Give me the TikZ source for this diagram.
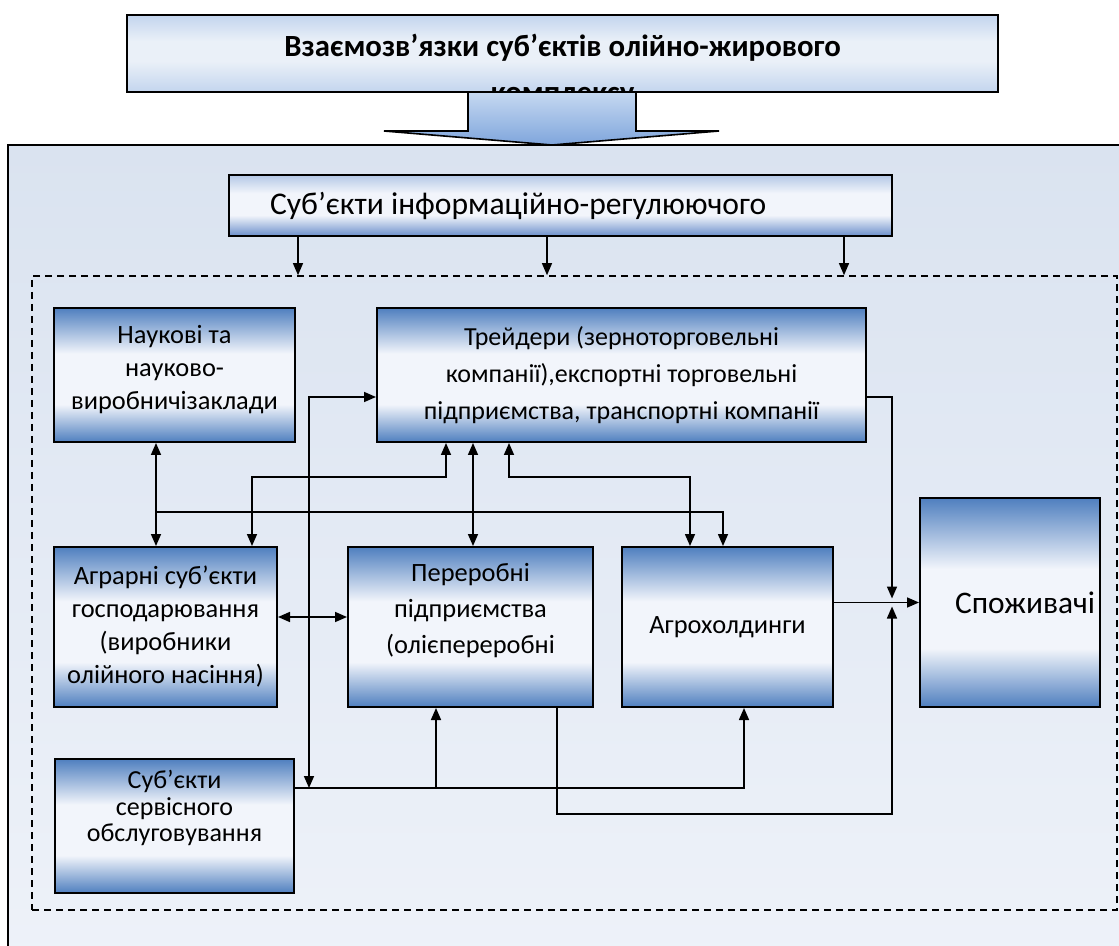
\documentclass[tikz,border=0pt]{standalone}
\usepackage{fontspec}
\setmainfont{Carlito}
\usepackage{xcolor}
\usepackage{tikz}
\usetikzlibrary{arrows.meta, positioning}

\definecolor{unitblue}{HTML}{4F7FBF}
\definecolor{unitlight}{HTML}{F2F5FB}
\definecolor{infotop}{HTML}{B4C8E6}
\definecolor{infobot}{HTML}{6B8FCB}
\definecolor{titleblue}{HTML}{C3D5EE}
\definecolor{titlelight}{HTML}{EAF0F8}
\definecolor{fieldtop}{HTML}{DAE3F0}
\definecolor{fieldbot}{HTML}{EEF2F9}
\definecolor{arrtop}{HTML}{C6D9F1}
\definecolor{arrbot}{HTML}{7FA5DC}

\pgfdeclareverticalshading{unitshade}{100bp}{color(0bp)=(unitblue); color(25bp)=(unitblue);
  color(39bp)=(unitlight); color(58bp)=(unitlight); color(75bp)=(unitblue); color(100bp)=(unitblue)}
\pgfdeclareverticalshading{infoshade}{100bp}{color(0bp)=(infobot); color(25bp)=(infobot);
  color(42bp)=(unitlight); color(60bp)=(unitlight); color(75bp)=(infotop); color(100bp)=(infotop)}
\pgfdeclareverticalshading{titleshade}{100bp}{color(0bp)=(titleblue); color(25bp)=(titleblue);
  color(45bp)=(titlelight); color(58bp)=(titlelight); color(75bp)=(titleblue); color(100bp)=(titleblue)}
\pgfdeclareverticalshading{fieldshade}{100bp}{color(0bp)=(fieldbot); color(25bp)=(fieldbot);
  color(75bp)=(fieldtop); color(100bp)=(fieldtop)}

\begin{document}
\begin{tikzpicture}[x=0.5pt, y=-0.5pt, >={Triangle[length=6pt, width=5pt]},
    unit/.style={draw=black, line width=1pt, shading=unitshade, inner sep=2pt, align=center,
      font=\fontsize{13.2}{16.5}\selectfont},
    link/.style={line width=0.8pt}]
    \useasboundingbox (0,0) rectangle (1119,946);
    \shade[shading=fieldshade, draw=black, line width=0.8pt] (8,145) rectangle (1140,970);

    % title with arrow
    \node[draw=black, line width=0.8pt, shading=titleshade, minimum width=435.5pt, minimum height=38.5pt] (title) at (562.5,53.5) {};
    \node[font=\bfseries\fontsize{15.4}{23}\selectfont, align=center] (titletxt) at (562.5,71)
        {Взаємозв’язки суб’єктів олійно-жирового\\комплексу};
    \draw[line width=0.8pt, top color=arrtop, bottom color=arrbot]
        (468,92) -- (636,92) -- (636,131) -- (719,131) -- (552,145) -- (384,131) -- (468,131) -- cycle;

    \node[draw=black, line width=1pt, shading=infoshade, minimum height=30.5pt, inner xsep=20.5pt,
        font=\fontsize{15.8}{18}\selectfont] (info) at (560.5,205.5)
        {\makebox[290.5pt][l]{Суб’єкти інформаційно-регулюючого}};
    \node[draw=black, dash pattern=on 3.5pt off 2.5pt, line width=0.8pt, inner sep=0pt,
        minimum width=542.5pt, minimum height=317pt] (field) at (574.5,593) {};

    \node[unit, minimum width=120.5pt, minimum height=67pt] (sci) at (174.5,375) {};
    \node[align=center, font=\fontsize{13.2}{16.5}\selectfont] (scitxt) at ([yshift=2.5pt]sci.center)
        {Наукові та\\науково-\\виробничізаклади};
    \node[unit, minimum width=244.5pt, minimum height=67pt, font=\fontsize{13}{18.5}\selectfont] (trd) at (621.5,375)
        {Трейдери (зерноторговельні\\компанії),експортні торговельні\\підприємства, транспортні компанії};
    \node[unit, minimum width=111.5pt, minimum height=80pt] (agr) at (165.5,627)
        {Аграрні суб’єкти\\господарювання\\(виробники\\олійного насіння)};
    \node[unit, minimum width=122.5pt, minimum height=80pt] (proc) at (470.5,627) {};
    \node[align=center, font=\fontsize{13.2}{18}\selectfont] (proctxt) at ([yshift=8pt]proc.center)
        {Переробні\\підприємства\\(олієпереробні};
    \node[unit, minimum width=105.5pt, minimum height=80pt] (hold) at (727.5,627) {Агрохолдинги};
    \node[unit, minimum width=90pt, minimum height=104.5pt, font=\fontsize{15.7}{16}\selectfont] (cons) at (1010,602.5)
        {\hspace*{15pt}Споживачі};
    \node[unit, minimum width=119.5pt, minimum height=67pt] (serv) at (174.5,826) {};
    \node[align=center, font=\fontsize{13}{13.25}\selectfont] (servtxt) at ([yshift=9pt]serv.center)
        {Суб’єкти\\сервісного\\обслуговування};

    \foreach \dx in {-131.25, -6.75, 141.75}
        \draw[->, line width=0.6pt] ([xshift=\dx pt]info.south) -- ([xshift=\dx pt]info.south |- field.north);

    \coordinate (sciagr) at ([xshift=-9.25pt, yshift=-34.5pt]sci.south);
    \coordinate (servout) at ([yshift=19pt]serv.east);
    \coordinate (jn) at ([xshift=-13.5pt]cons.west);

    \draw[link, <->] ([xshift=-9.25pt]sci.south) -- ([xshift=-9.25pt]sci.south |- agr.north);
    \draw[link, ->] (sciagr) -| ([xshift=-2.25pt]hold.north);
    \draw[link, <->] ([xshift=-87.75pt]trd.south) -- ++(0,34) -| ([xshift=43.25pt]agr.north);
    \draw[link, <->] ([xshift=-56.25pt]trd.south) -- ++(0,34) -| ([xshift=-18.75pt]hold.north);
    \draw[link, <->] ([xshift=-74.25pt]trd.south) -- ([xshift=-74.25pt]trd.south |- proc.north);
    \draw[link, <->] ([yshift=5pt]agr.east) -- ([yshift=5pt]agr.east -| proc.west);
    \draw[link, <->] ([xshift=7pt]servout) |- ([yshift=-11pt]trd.west);
    \draw[link, ->] (servout) -| ([xshift=8.25pt]hold.south);
    \draw[link, ->] ([xshift=-17.25pt]proc.south |- servout) -- ([xshift=-17.25pt]proc.south);
    \draw[link, ->] ([yshift=-11pt]trd.east) -| ([yshift=2pt]jn);
    \draw[link, ->] ([xshift=43.25pt]proc.south) -- ++(0,106) -| ([yshift=-2pt]jn);
    \draw[link, ->] (hold.east |- cons.west) -- (cons.west);
\end{tikzpicture}
\end{document}
